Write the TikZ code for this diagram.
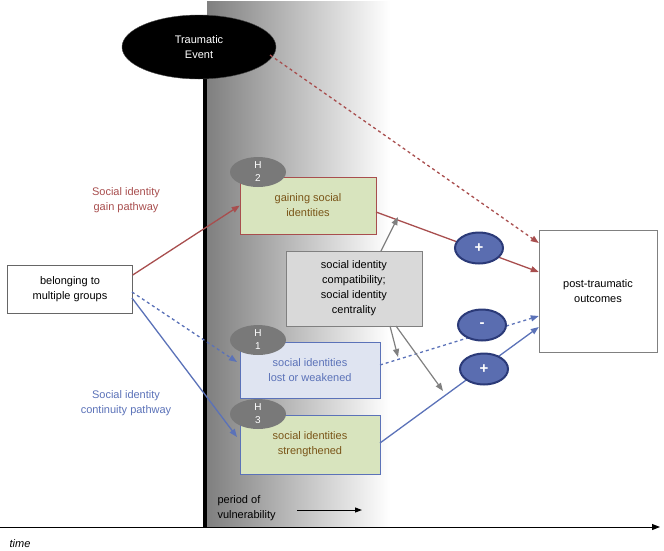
\documentclass[tikz,border=0pt]{standalone}
\usepackage{fontspec}
\setmainfont{Liberation Sans}
\usetikzlibrary{shapes.geometric,arrows.meta}
\definecolor{cred}{HTML}{A84E4E}
\definecolor{cblue}{HTML}{5B72B8}
\definecolor{cgreen}{HTML}{D8E4BE}
\definecolor{clblue}{HTML}{DFE4F1}
\definecolor{cbrown}{HTML}{7A5518}
\definecolor{cpl}{HTML}{5A6DB0}
\definecolor{cpld}{HTML}{2B3A78}
\begin{document}
\begin{tikzpicture}[x=1pt,y=-1pt,
  every node/.style={font=\fontsize{11}{15}\selectfont,align=center},
  box/.style={draw,rectangle,inner sep=0pt},
  hyp/.style={ellipse,fill=gray!95!black,minimum width=56,minimum height=30,text=white,font=\fontsize{10}{13}\selectfont,inner sep=0pt},
  pm/.style={ellipse,fill=cpl,draw=cpld,line width=2pt,minimum width=48,minimum height=31,text=white,font=\bfseries\fontsize{15}{15}\selectfont},
  arr/.style={-{Triangle[length=8pt,width=6pt]},line width=1.3pt}]
\useasboundingbox (0,0) rectangle (664,550);
\shade[left color=black!50,right color=white] (207,0) rectangle (390,527);
\fill[white] (207,0) rectangle (390,0.1);
\draw[line width=4pt] (205,60) -- (205,527);
\draw[-{Triangle[length=8pt,width=6pt]},line width=1pt] (0,527) -- (660,527);
\node at (20,544) {\itshape time};
\node[ellipse,fill=black,draw=black!70,minimum width=154,minimum height=64,text=white,inner sep=0pt] (te) at (199,47) {Traumatic\\Event};
\node[box,fill=white,draw=black!60,minimum width=125,minimum height=48] (bel) at (70,289) {belonging to\\multiple groups};
\node[box,fill=cgreen,draw=cred,minimum width=136,minimum height=57,text=cbrown] (gain) at (308,205.5) {gaining social\\identities};
\node[box,fill=clblue,draw=cblue,minimum width=140,minimum height=56,text=cblue] (lost) at (310,370) {social identities\\lost or weakened};
\node[box,fill=cgreen,draw=cblue,minimum width=140,minimum height=59,text=cbrown] (str) at (310,444.5) {social identities\\strengthened};
\node[box,fill=black!15,draw=black!50,minimum width=136,minimum height=75] (cen) at (354,288.5) {social identity\\compatibility;\\social identity\\centrality};
\node[box,fill=white,draw=black!50,minimum width=118,minimum height=122] (post) at (598,291) {post-traumatic\\outcomes};
\node[hyp] (h2) at (258,172) {H\\2};
\node[hyp] (h1) at (258,340) {H\\1};
\node[hyp] (h3) at (258,414) {H\\3};
\node[text=cred] (lg) at (126,200) {Social identity\\gain pathway};
\node[text=cblue] (lc) at (126,403) {Social identity\\continuity pathway};
\node[align=left,anchor=west] (pv) at (214,508) {period of\\vulnerability};
\coordinate (pa) at (297,510); \coordinate (pb) at (362,510);
\draw[-{Triangle[length=7pt,width=5pt]},line width=1pt] (pa) -- (pb);
% arrows
\draw[arr,cred] (bel.east|-0,275) -- (gain.west);
\draw[arr,cblue,dashed] (132,292) -- (237,362);
\draw[arr,cblue] (132,298) -- (237,437);
\draw[arr,cred,dashed] (270,55) -- (post.west|-0,243);
\draw[arr,cred] (376,212) -- (post.west|-0,272);
\draw[arr,cblue,dashed] (380,365) -- (post.west|-0,316);
\draw[arr,cblue] (380,443) -- (post.west|-0,327);
\draw[arr,gray,line width=1.2pt] (381,251) -- (398,217);
\draw[arr,gray,line width=1.2pt] (390,326) -- (398,357);
\draw[arr,gray,line width=1.2pt] (396,326) -- (443,391);
\node[pm] (p1) at (479,248) {+};
\node[pm] (m1) at (482,325) {-};
\node[pm] (p2) at (484,369) {+};
\end{tikzpicture}
\end{document}
